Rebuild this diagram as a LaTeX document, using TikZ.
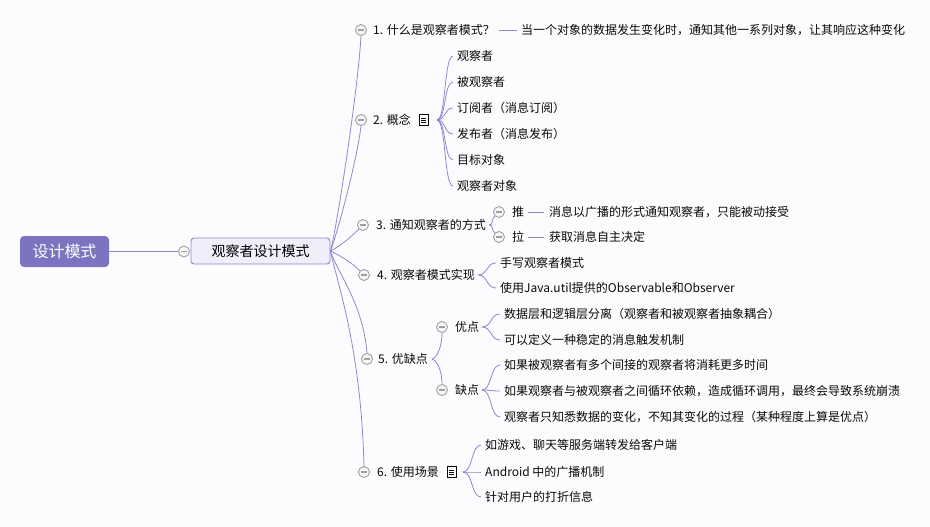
\documentclass[tikz,border=0pt]{standalone}
\usepackage{fontspec}
\setmainfont{Noto Sans CJK SC}
\definecolor{bgc}{RGB}{252,252,254}
\definecolor{rootfill}{RGB}{124,116,192}
\definecolor{mainfill}{RGB}{239,238,250}
\definecolor{mainborder}{RGB}{141,134,206}
\definecolor{edge}{RGB}{142,136,208}
\definecolor{togg}{RGB}{160,160,160}
\definecolor{txt}{RGB}{10,10,10}
\tikzset{
  tog/.style={circle, draw=togg, fill=white!93!gray, line width=0.9pt, minimum size=11pt, inner sep=0pt,
    path picture={\draw[togg, line width=1.2pt] ([xshift=-3pt]path picture bounding box.center) -- ([xshift=3pt]path picture bounding box.center);}},
  lbl/.style={anchor=west, inner sep=0pt, text=txt, font=\fontsize{12}{14}\selectfont},
  conn/.style={draw=edge, line width=0.8pt},
  rootbox/.style={rectangle, rounded corners=4pt, fill=rootfill, text=white, minimum width=89pt, minimum height=31pt, inner sep=0pt, font=\fontsize{16}{18}\selectfont},
  mainbox/.style={rectangle, rounded corners=3pt, fill=mainfill, draw=mainborder, line width=0.9pt, text=black, minimum width=139pt, minimum height=26pt, inner sep=0pt, font=\fontsize{14}{16}\selectfont},
  docicon/.style={rectangle, draw=txt, line width=0.9pt, minimum width=9pt, minimum height=11pt, inner sep=0pt,
    path picture={\draw[txt, line width=0.8pt] ([xshift=-2.2pt,yshift=2pt]path picture bounding box.center) -- ([xshift=2.2pt,yshift=2pt]path picture bounding box.center);
                  \draw[txt, line width=0.8pt] ([xshift=-2.2pt]path picture bounding box.center) -- ([xshift=2.2pt]path picture bounding box.center);
                  \draw[txt, line width=0.8pt] ([xshift=-2.2pt,yshift=-2pt]path picture bounding box.center) -- ([xshift=2.2pt,yshift=-2pt]path picture bounding box.center);}}
}
\begin{document}
\begin{tikzpicture}[x=1pt,y=-1pt]
\fill[bgc] (0,0) rectangle (930,527);
\useasboundingbox (0,0) rectangle (930,527);

% root and main
\node[rootbox] (root) at (64.5,251.5) {设计模式};
\node[tog] (t0) at (184,251.5) {};
\node[mainbox] (main) at (260.5,251) {观察者设计模式};
\draw[conn] (root.east) -- (t0.west);

% level-1 toggles and labels
\node[tog] (c1) at (361,30) {};
\node[lbl] (n1) at (373,30) {1. 什么是观察者模式？};
\node[lbl] (d1) at (521,30) {当一个对象的数据发生变化时，通知其他一系列对象，让其响应这种变化};
\draw[conn] ([xshift=-22pt]d1.west) -- ([xshift=-4pt]d1.west);

\node[tog] (c2) at (361,120) {};
\node[lbl] (n2) at (373,120) {2. 概念};
\node[docicon] (i2) at (423.5,120) {};
\coordinate (b2) at (437,120);
\node[lbl] (a1) at (457,56) {观察者};
\node[lbl] (a2) at (457,82) {被观察者};
\node[lbl] (a3) at (457,108) {订阅者（消息订阅）};
\node[lbl] (a4) at (457,134) {发布者（消息发布）};
\node[lbl] (a5) at (457,160) {目标对象};
\node[lbl] (a6) at (457,186) {观察者对象};
\foreach \t in {a1,a2,a3,a4,a5,a6}
  \draw[conn] (b2) .. controls +(9,0) and +(-9,0) .. ([xshift=-4pt]\t.west);

\node[tog] (c3) at (363,225) {};
\node[lbl] (n3) at (376,225) {3. 通知观察者的方式};
\coordinate (b3) at (489,225);
\node[tog] (p1) at (499,212) {};
\node[tog] (p2) at (499,237) {};
\draw[conn] (b3) .. controls +(5,0) and +(-4,3) .. (p1.south west);
\draw[conn] (b3) .. controls +(5,0) and +(-4,-3) .. (p2.north west);
\node[lbl] (m1) at (512,212) {推};
\node[lbl] (m2) at (512,237) {拉};
\node[lbl] (e1) at (549,212) {消息以广播的形式通知观察者，只能被动接受};
\node[lbl] (e2) at (549,237) {获取消息自主决定};
\draw[conn] ([xshift=-21pt]e1.west) -- ([xshift=-5pt]e1.west);
\draw[conn] ([xshift=-21pt]e2.west) -- ([xshift=-5pt]e2.west);

\node[tog] (c4) at (364,275) {};
\node[lbl] (n4) at (377,275) {4. 观察者模式实现};
\coordinate (b4) at (478,275);
\node[lbl] (f1) at (500,263) {手写观察者模式};
\node[lbl] (f2) at (500,288) {使用Java.util提供的Observable和Observer};
\foreach \t in {f1,f2}
  \draw[conn] (b4) .. controls +(10,0) and +(-10,0) .. ([xshift=-4pt]\t.west);

\node[tog] (c5) at (367,359) {};
\node[lbl] (n5) at (378,359) {5. 优缺点};
\coordinate (b5) at (432,359);
\node[tog] (q1) at (442,327) {};
\node[tog] (q2) at (442,390) {};
\draw[conn] (b5) .. controls +(6,-2) and +(0,12) .. (q1.south);
\draw[conn] (b5) .. controls +(6,2) and +(0,-12) .. (q2.north);
\node[lbl] (o1) at (455,327) {优点};
\node[lbl] (o2) at (455,390) {缺点};
\coordinate (b51) at (482,327);
\coordinate (b52) at (482,390);
\node[lbl] (g1) at (504,314) {数据层和逻辑层分离（观察者和被观察者抽象耦合）};
\node[lbl] (g2) at (504,340) {可以定义一种稳定的消息触发机制};
\node[lbl] (h1) at (504,365) {如果被观察者有多个间接的观察者将消耗更多时间};
\node[lbl] (h2) at (504,391) {如果观察者与被观察者之间循环依赖，造成循环调用，最终会导致系统崩溃};
\node[lbl] (h3) at (504,417) {观察者只知悉数据的变化，不知其变化的过程（某种程度上算是优点）};
\foreach \t in {g1,g2}
  \draw[conn] (b51) .. controls +(10,0) and +(-10,0) .. ([xshift=-4pt]\t.west);
\foreach \t in {h1,h2,h3}
  \draw[conn] (b52) .. controls +(10,0) and +(-10,0) .. ([xshift=-4pt]\t.west);

\node[tog] (c6) at (364,472) {};
\node[lbl] (n6) at (377,472) {6. 使用场景};
\node[docicon] (i6) at (451.5,472) {};
\coordinate (b6) at (463,472);
\node[lbl] (k1) at (485,445) {如游戏、聊天等服务端转发给客户端};
\node[lbl] (k2) at (485,472) {Android 中的广播机制};
\node[lbl] (k3) at (485,497) {针对用户的打折信息};
\foreach \t in {k1,k2,k3}
  \draw[conn] (b6) .. controls +(10,0) and +(-10,0) .. ([xshift=-4pt]\t.west);

% main connectors
\draw[conn] (main.east) .. controls +(6,-21) and +(-3,54) .. (c1.south);
\draw[conn] (main.east) .. controls +(6,-15) and +(-4,35) .. (c2.south);
\draw[conn] (main.east) .. controls +(8,-4) and +(-10,10) .. (c3.south west);
\draw[conn] (main.east) .. controls +(8,4) and +(-10,-10) .. (c4.north west);
\draw[conn] (main.east) .. controls +(6,20) and +(-4,-50) .. (c5.north);
\draw[conn] (main.east) .. controls +(6,30) and +(-3,-120) .. (c6.north);
\end{tikzpicture}
\end{document}
